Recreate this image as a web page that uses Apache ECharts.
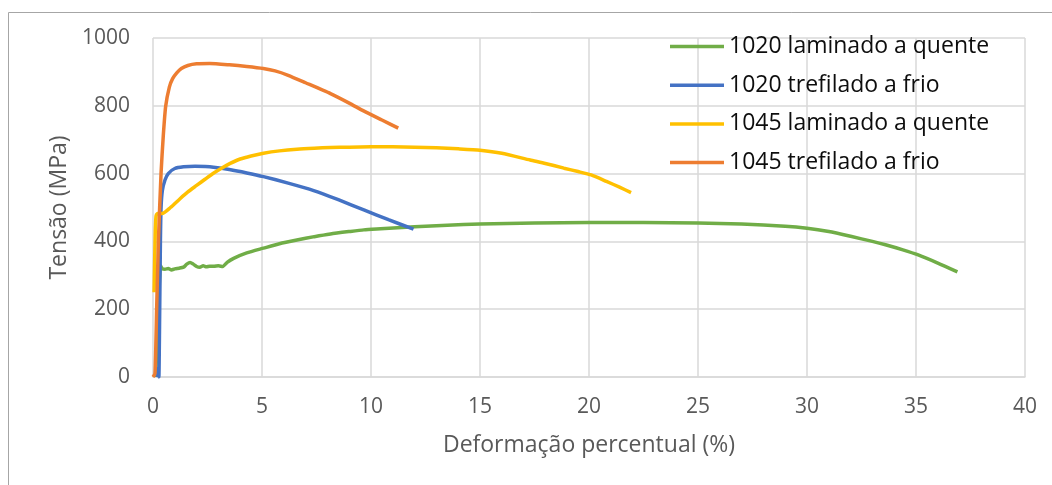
<!DOCTYPE html>
<html>
<head>
<meta charset="utf-8">
<script src="https://cdn.jsdelivr.net/npm/echarts@6/dist/echarts.min.js"></script>
<style>
html,body{margin:0;padding:0;background:#fff;}
#chart{width:1052px;height:485px;}
</style>
</head>
<body>
<div id="chart"></div>
<script>
// Series names
const seriesNames = ['1020 laminado a quente', '1020 trefilado a frio', '1045 laminado a quente', '1045 trefilado a frio'];
const seriesColors = ['#70AD47', '#4472C4', '#FFC000', '#ED7D31'];

// [strain %, stress MPa]
const lam1020 = [[0.12,0],[0.2,120],[0.28,260],[0.35,328],[0.42,320],[0.55,318],[0.7,320],[0.85,316],[1.0,319],[1.2,321],[1.4,324],[1.55,333],[1.7,338],[1.85,333],[2.0,326],[2.15,324],[2.3,328],[2.45,325],[2.6,327],[2.8,327],[3.0,328],[3.2,326],[3.4,338],[3.7,350],[4.3,366],[5.07,380],[5.8,393],[6.6,404],[7.4,414],[8.14,422],[9.0,429],[9.67,434],[10.44,437],[12,443],[13.5,448],[15,451],[17.5,454],[20,456],[22.5,456],[25,454],[27,451],[29,445],[30,439],[31,429],[32,415],[33,400],[33.6,390],[34.4,375],[35.1,360],[36,336],[36.9,310]];
const tref1020 = [[0.2,0],[0.25,30],[0.27,0],[0.3,150],[0.34,400],[0.37,500],[0.43,550],[0.55,581],[0.7,600],[1.0,615],[1.4,620],[1.93,622],[2.4,621],[2.77,619],[3.5,612],[4.3,602],[5.07,591],[6.2,572],[7.37,550],[8.5,523],[9.67,493],[10.8,464],[11.95,436]];
const lam1045 = [[0.05,250],[0.1,420],[0.14,475],[0.2,482],[0.3,483],[0.42,482],[0.8,500],[1.24,526],[1.6,546],[2.0,565],[2.4,584],[2.77,601],[3.2,618],[3.54,630],[4.0,643],[4.5,652],[5.07,660],[5.8,667],[6.6,672],[7.4,675],[8.14,677],[9,678],[10,679],[11,679],[12,678],[13,676],[14,673],[15,669],[16,660],[17.3,640],[18,630],[18.85,616],[19.5,606],[20.1,596],[20.8,577],[21.4,560],[21.93,544]];
const tref1045 = [[0,0],[0.09,10],[0.17,207],[0.25,404],[0.37,602],[0.47,710],[0.58,798],[0.75,855],[0.9,880],[1.09,897],[1.3,910],[1.6,919],[2.0,924],[2.6,925],[3.5,921],[4.3,916],[5.06,910],[5.6,903],[6.2,890],[7,868],[8.14,836],[9.0,808],[9.66,785],[10.5,758],[11.25,734]];
const seriesData = [lam1020, tref1020, lam1045, tref1045];

const FONT = 'Open Sans';
const TXT = '#595959';

const chart = echarts.init(document.getElementById('chart'), null, {renderer: 'canvas'});
chart.setOption({
  animation: false,
  backgroundColor: '#fff',
  graphic: [{
    type: 'rect', shape: {x: 8.5, y: 12.5, width: 1200, height: 600},
    style: {fill: 'none', stroke: '#a6a6a6', lineWidth: 1}, silent: true, z: -1
  }],
  grid: {left: 153, right: 27, top: 38, bottom: 108, containLabel: false},
  legend: {
    orient: 'vertical', left: 665, top: 29.5,
    icon: 'rect', itemWidth: 54, itemHeight: 3.5, itemGap: 14.7,
    textStyle: {fontFamily: FONT, fontSize: 23, color: '#0d0d0d', lineHeight: 24, padding: [0,0,0,0]},
    data: seriesNames
  },
  xAxis: {
    type: 'value', min: 0, max: 40, interval: 5,
    name: 'Deformação percentual (%)', nameLocation: 'middle', nameGap: 57,
    nameTextStyle: {fontFamily: FONT, fontSize: 23, color: TXT},
    axisLine: {show: true, lineStyle: {color: '#d9d9d9', width: 1.5}},
    axisTick: {show: false},
    axisLabel: {fontFamily: FONT, fontSize: 21, color: TXT, margin: 20},
    splitLine: {show: true, lineStyle: {color: '#d9d9d9', width: 1.5}}
  },
  yAxis: {
    type: 'value', min: 0, max: 1000, interval: 200,
    name: 'Tensão (MPa)', nameLocation: 'middle', nameGap: 82,
    nameTextStyle: {fontFamily: FONT, fontSize: 23, color: TXT},
    axisLine: {show: false},
    axisTick: {show: false},
    axisLabel: {fontFamily: FONT, fontSize: 21, color: TXT, margin: 23, formatter: v => String(v)},
    splitLine: {show: true, lineStyle: {color: '#d9d9d9', width: 1.5}}
  },
  series: seriesNames.map((n, i) => ({
    name: n, type: 'line', data: seriesData[i],
    symbol: 'none', smooth: 0.2,
    lineStyle: {color: seriesColors[i], width: 3.5},
    itemStyle: {color: seriesColors[i]},
    z: 2 + i
  }))
});
</script>
</body>
</html>
